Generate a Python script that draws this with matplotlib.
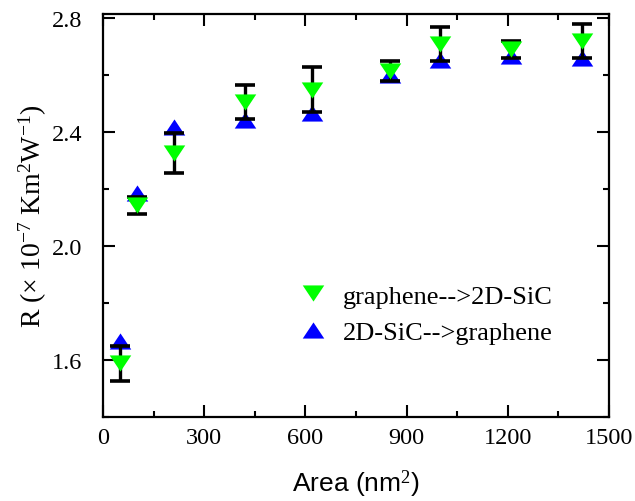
import numpy as np
import matplotlib
matplotlib.use("Agg")
import matplotlib.pyplot as plt
from matplotlib.ticker import FormatStrFormatter

# ================================
# DATA
# ================================
area = [50, 100, 210, 420, 620, 850, 1000, 1210, 1420]

# graphene --> 2D-SiC (green, down triangles) with error bars
r_g2s = [1.588, 2.143, 2.327, 2.506, 2.549, 2.615, 2.709, 2.690, 2.719]
err_g2s = [0.060, 0.030, 0.070, 0.060, 0.079, 0.035, 0.058, 0.031, 0.060]

# 2D-SiC --> graphene (blue, up triangles)
r_s2g = [1.665, 2.186, 2.417, 2.441, 2.467, 2.601, 2.653, 2.668, 2.660]

label_g2s = "graphene-->2D-SiC"
label_s2g = "2D-SiC-->graphene"

# ================================
# STYLE
# ================================
plt.rcParams["font.family"] = ["Liberation Serif", "DejaVu Serif"]
plt.rcParams["mathtext.fontset"] = "custom"
plt.rcParams["mathtext.rm"] = "Liberation Serif"
plt.rcParams["mathtext.it"] = "Liberation Serif:italic"
sans = ["Liberation Sans", "DejaVu Sans"]

# wide flat triangles like Origin's
tri_up = [(0, 0.75), (-1, -0.75), (1, -0.75)]
tri_down = [(0, -0.75), (-1, 0.75), (1, 0.75)]

fig = plt.figure(figsize=(6.35, 5.02), dpi=100)
ax = fig.add_axes([0.1622, 0.1673, 0.7968, 0.8027])

# blue first, then error bars, then green on top
ax.plot(area, r_s2g, linestyle="none", marker=tri_up, markersize=15.5,
        color="#0000FF", markeredgewidth=0, zorder=3, label=label_s2g)
ax.errorbar(area, r_g2s, yerr=err_g2s, fmt="none", ecolor="black",
            elinewidth=2.4, capsize=7.2, capthick=2.6, zorder=4)
ax.plot(area, r_g2s, linestyle="none", marker=tri_down, markersize=15.5,
        color="#00FF00", markeredgewidth=0, zorder=5, label=label_g2s)

ax.set_xlim(0, 1500)
ax.set_ylim(1.4, 2.814)
ax.set_xticks(np.arange(0, 1501, 300))
ax.set_xticks(np.arange(150, 1500, 300), minor=True)
ax.set_yticks([1.6, 2.0, 2.4, 2.8])
ax.set_yticks([1.4, 1.8, 2.2, 2.6], minor=True)
ax.xaxis.set_major_formatter(FormatStrFormatter("%d"))
ax.yaxis.set_major_formatter(FormatStrFormatter("%.1f"))

ax.tick_params(which="both", direction="in", top=True, right=True,
               width=1.5, labelsize=17.5)
ax.tick_params(which="major", length=8.5)
ax.tick_params(which="minor", length=4.5)
ax.tick_params(axis="x", which="major", pad=7)
ax.tick_params(axis="y", which="major", pad=15)

for sp in ax.spines.values():
    sp.set_linewidth(1.6)

ax.set_xlabel("Area (nm$^2$)", fontsize=19, fontfamily=sans, labelpad=14)
ax.set_ylabel(r"R ($\times$ 10$^{-7}$ Km$^2$W$^{-1}$)", fontsize=20,
              labelpad=2)

handles, labels = ax.get_legend_handles_labels()
leg = ax.legend(handles[::-1], labels[::-1], loc="upper left",
                bbox_to_anchor=(0.386, 0.33), frameon=False,
                prop={"size": 19}, handletextpad=0.55, borderpad=0,
                labelspacing=0.5, handlelength=1.15, borderaxespad=0)

fig.savefig("out.png", dpi=100)
